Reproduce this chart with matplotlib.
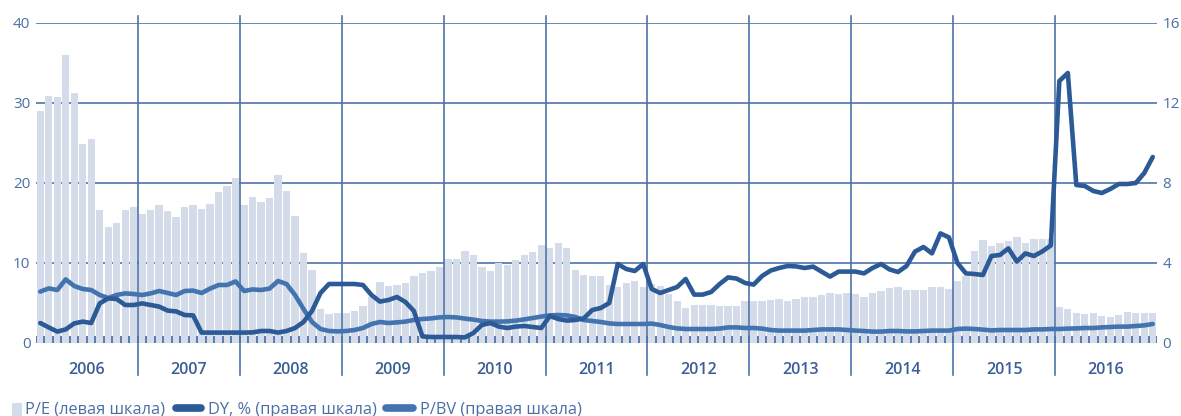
import numpy as np
import matplotlib
matplotlib.use("Agg")
import matplotlib.pyplot as plt
from matplotlib.patches import Rectangle
from matplotlib.lines import Line2D

plt.rcParams['font.family'] = ['Open Sans', 'DejaVu Sans']

# ---------------- data (monthly, Jan 2006 .. Dec 2016) ----------------
years = ['2006', '2007', '2008', '2009', '2010', '2011',
         '2012', '2013', '2014', '2015', '2016']

pe = [29.0, 30.9, 30.7, 36.0, 31.3, 24.9, 25.5, 16.6, 14.5, 15.0, 16.6, 17.0,
      16.1, 16.6, 17.2, 16.5, 15.7, 17.0, 17.2, 16.7, 17.4, 18.9, 19.6, 20.6,
      17.2, 18.3, 17.6, 18.1, 21.0, 19.0, 15.9, 11.3, 9.1, 4.2, 3.6, 3.8,
      3.8, 4.0, 4.6, 5.8, 7.6, 7.1, 7.3, 7.5, 8.4, 8.7, 9.0, 9.5,
      10.5, 10.5, 11.5, 11.0, 9.5, 9.0, 10.0, 9.8, 10.4, 11.0, 11.4, 12.3,
      11.9, 12.5, 11.9, 9.1, 8.5, 8.4, 8.4, 7.3, 7.0, 7.5, 7.7, 7.0,
      7.4, 7.1, 6.1, 5.2, 4.4, 4.8, 4.8, 4.8, 4.6, 4.6, 4.6, 5.2,
      5.3, 5.2, 5.4, 5.5, 5.3, 5.5, 5.7, 5.8, 6.0, 6.3, 6.1, 6.2,
      6.1, 5.7, 6.3, 6.5, 6.9, 7.0, 6.6, 6.6, 6.6, 7.0, 7.0, 6.8,
      7.75, 8.4, 11.5, 12.9, 12.1, 12.5, 12.7, 13.2, 12.5, 13.0, 13.0, 13.0,
      4.5, 4.2, 3.8, 3.6, 3.8, 3.4, 3.3, 3.5, 3.9, 3.75, 3.75, 3.75]

dy = [1.0, 0.78, 0.57, 0.68, 0.98, 1.07, 1.0, 1.98, 2.23, 2.2, 1.9, 1.9,
      1.98, 1.9, 1.82, 1.62, 1.58, 1.4, 1.38, 0.52, 0.52, 0.52, 0.52, 0.52,
      0.52, 0.53, 0.6, 0.6, 0.52, 0.6, 0.75, 1.05, 1.6, 2.5, 2.95, 2.95,
      2.95, 2.95, 2.9, 2.4, 2.07, 2.15, 2.3, 2.05, 1.6, 0.33, 0.3, 0.3,
      0.3, 0.3, 0.28, 0.5, 0.9, 1.0, 0.82, 0.75, 0.82, 0.85, 0.8, 0.75,
      1.35, 1.2, 1.12, 1.15, 1.23, 1.65, 1.75, 2.0, 3.95, 3.7, 3.6, 3.95,
      2.7, 2.5, 2.65, 2.8, 3.2, 2.42, 2.42, 2.55, 2.95, 3.28, 3.22, 3.0,
      2.92, 3.35, 3.62, 3.75, 3.85, 3.83, 3.75, 3.82, 3.57, 3.32, 3.57, 3.57,
      3.57, 3.48, 3.75, 3.95, 3.68, 3.55, 3.85, 4.57, 4.8, 4.48, 5.48, 5.28,
      4.0, 3.48, 3.45, 3.4, 4.35, 4.4, 4.73, 4.07, 4.48, 4.35, 4.58, 4.88,
      13.1, 13.5, 7.9, 7.85, 7.6, 7.5, 7.7, 7.95, 7.95, 8.0, 8.5, 9.3]

pbv = [2.57, 2.73, 2.65, 3.18, 2.85, 2.7, 2.65, 2.4, 2.25, 2.4, 2.48, 2.45,
       2.4, 2.48, 2.6, 2.5, 2.4, 2.6, 2.62, 2.5, 2.72, 2.9, 2.9, 3.08,
       2.6, 2.68, 2.65, 2.72, 3.1, 2.95, 2.4, 1.7, 1.05, 0.7, 0.6, 0.58,
       0.6, 0.65, 0.75, 0.95, 1.05, 1.0, 1.03, 1.07, 1.15, 1.2, 1.23, 1.28,
       1.3, 1.28, 1.22, 1.17, 1.1, 1.07, 1.07, 1.08, 1.12, 1.18, 1.25, 1.32,
       1.38, 1.4, 1.38, 1.3, 1.15, 1.1, 1.05, 0.98, 0.95, 0.95, 0.95, 0.95,
       0.97, 0.9, 0.8, 0.73, 0.7, 0.7, 0.7, 0.7, 0.72, 0.78, 0.78, 0.75,
       0.75, 0.72, 0.65, 0.62, 0.62, 0.62, 0.62, 0.65, 0.68, 0.68, 0.68, 0.65,
       0.62, 0.6, 0.57, 0.57, 0.6, 0.6, 0.58, 0.58, 0.6, 0.62, 0.62, 0.62,
       0.7, 0.72, 0.7, 0.67, 0.63, 0.65, 0.65, 0.65, 0.65, 0.68, 0.68, 0.7,
       0.7, 0.72, 0.73, 0.75, 0.75, 0.78, 0.8, 0.82, 0.82, 0.85, 0.88, 0.95]

left_ticks = [0, 10, 20, 30, 40]
right_ticks = [0, 4, 8, 12, 16]
legend_labels = ['P/E (левая шкала)', 'DY, % (правая шкала)', 'P/BV (правая шкала)']

# ---------------- style ----------------
BAR_C = '#d4dce9'
GRID_C = '#4d73a9'
DY_C = '#2b5a96'
PBV_C = '#4474b0'
TXT_C = '#4a6fa5'
YEAR_C = '#3a5e95'

W, H = 1181, 416
fig = plt.figure(figsize=(W / 100, H / 100), dpi=100)
x0, x1, ytop, ybot = 36, 1157, 23, 343
ax = fig.add_axes([x0 / W, (H - ybot) / H, (x1 - x0) / W, (ybot - ytop) / H])

n = len(pe)
x = np.arange(n)
ax.bar(x, pe, width=0.86, color=BAR_C, zorder=2, linewidth=0)
ax.set_xlim(-0.5, n - 0.5)
ax.set_ylim(0, 40)
ax.set_yticks(left_ticks)
ax.set_axisbelow(True)
ax.grid(axis='y', color=GRID_C, linewidth=1.2)
ax.set_xticks([])
for s in ax.spines.values():
    s.set_visible(False)
ax.tick_params(axis='y', length=0, pad=4, labelsize=11, labelcolor=TXT_C)

# month ticks along the baseline
ax.vlines(np.arange(-0.5, n, 1), 0, 0.85, color=GRID_C, linewidth=1.3, zorder=2.6)

# year separators extending below the axis
for k in range(1, len(years)):
    ax.axvline(k * 12 - 0.5, ymin=-0.10, ymax=1.022, color=GRID_C,
               linewidth=1.2, zorder=2.5, clip_on=False)

# year labels
for k, yr in enumerate(years):
    ax.annotate(yr, xy=(k * 12 + 5.5, -0.084), xycoords=('data', 'axes fraction'),
                ha='center', va='center', fontsize=11.5, fontweight='semibold',
                color=YEAR_C, annotation_clip=False)

ax2 = ax.twinx()
ax2.set_ylim(0, 16)
ax2.set_yticks(right_ticks)
for s in ax2.spines.values():
    s.set_visible(False)
ax2.tick_params(axis='y', length=0, pad=4, labelsize=11, labelcolor=TXT_C)
ax2.plot(x, pbv, color=PBV_C, linewidth=3.3, solid_joinstyle='round',
         solid_capstyle='round', zorder=3)
ax2.plot(x, dy, color=DY_C, linewidth=3.3, solid_joinstyle='round',
         solid_capstyle='round', zorder=4)

# ---------------- legend (bottom, partly cut like the original) ----------------
lb = (H - 414) / H
lc = (H - 408) / H
fig.add_artist(Rectangle((12 / W, 0), 10 / W, 13 / H,
                         transform=fig.transFigure, facecolor=BAR_C,
                         edgecolor='none'))
fig.text(25 / W, lb, legend_labels[0], fontsize=11.8, color=TXT_C,
         ha='left', va='baseline')
fig.add_artist(Line2D([176 / W, 201 / W], [lc, lc], transform=fig.transFigure,
                      color=DY_C, linewidth=5.5, solid_capstyle='round'))
fig.text(208 / W, lb, legend_labels[1], fontsize=11.8, color=TXT_C,
         ha='left', va='baseline')
fig.add_artist(Line2D([386 / W, 413 / W], [lc, lc], transform=fig.transFigure,
                      color=PBV_C, linewidth=5.5, solid_capstyle='round'))
fig.text(420 / W, lb, legend_labels[2], fontsize=11.8, color=TXT_C,
         ha='left', va='baseline')

fig.savefig('out.png', dpi=100)
